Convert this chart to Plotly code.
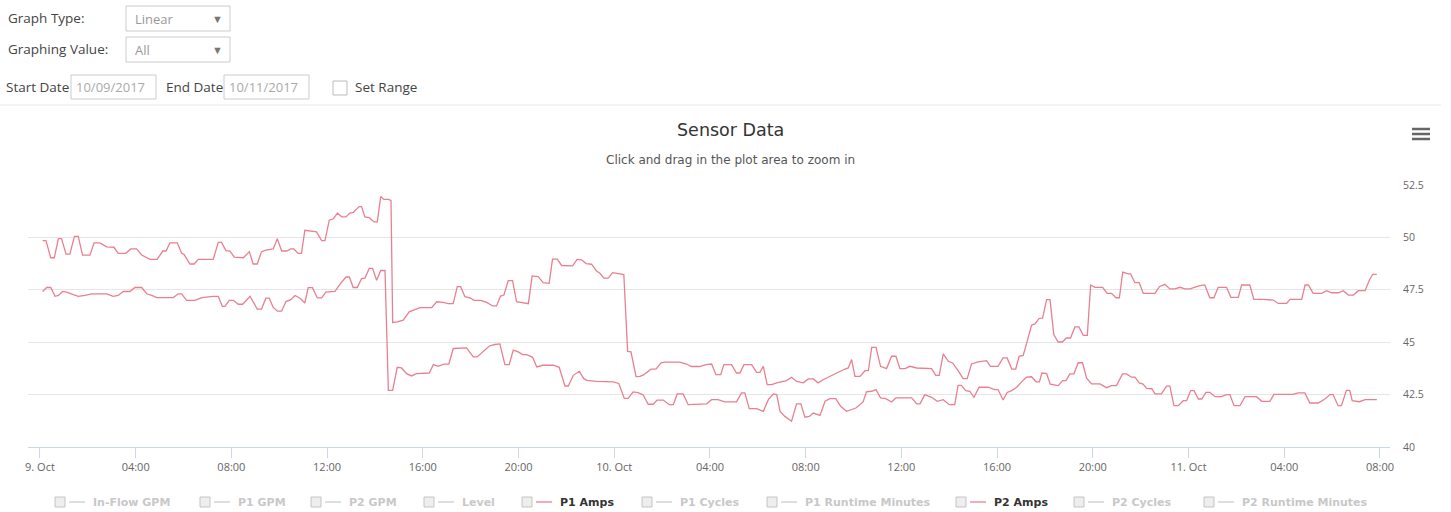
import pandas as pd
import plotly.graph_objects as go

# ---- data -----------------------------------------------------------------
start_day = "2017-10-09"

# hours after midnight on 9 Oct, and amps readings
p1_hours = [
    0.11, 0.25, 0.45, 0.60, 0.77, 0.90, 1.09, 1.25, 1.44, 1.60, 1.78, 2.09, 2.26, 2.50,
    2.79, 3.09, 3.27, 3.59, 3.79, 4.04, 4.25, 4.60, 4.90, 5.13, 5.27, 5.43, 5.74, 5.92,
    6.02, 6.27, 6.44, 6.62, 7.24, 7.45, 7.59, 7.77, 7.94, 8.12, 8.50, 8.75, 8.91, 9.08,
    9.26, 9.44, 9.75, 9.92, 10.10, 10.31, 10.48, 10.61, 10.79, 10.93, 11.07, 11.28,
    11.56, 11.77, 11.91, 12.09, 12.26, 12.43, 12.61, 12.79, 12.95, 13.09, 13.34, 13.44,
    13.58, 13.76, 13.96, 14.10, 14.24, 14.37, 14.56, 14.67, 14.74, 14.93, 15.18, 15.43,
    15.67, 15.88, 16.37, 16.58, 16.85, 17.06, 17.27, 17.44, 17.58, 17.76, 17.97, 18.14,
    18.42, 18.67, 18.92, 19.08, 19.25, 19.39, 19.57, 19.75, 19.92, 20.09, 20.41, 20.57,
    20.82, 21.03, 21.28, 21.42, 21.62, 21.80, 22.26, 22.45, 22.64, 22.82, 23.05, 23.26,
    23.40, 23.57, 23.75, 23.93, 24.17, 24.40, 24.56, 24.70, 24.91, 25.08, 25.24, 25.52,
    25.75, 25.96, 26.12, 26.74, 27.02, 27.22, 27.58, 27.83, 28.07, 28.25, 28.45, 28.58,
    28.90, 29.11, 29.25, 29.42, 29.74, 29.95, 30.09, 30.23, 30.39, 30.58, 30.79, 31.20,
    31.41, 31.62, 31.90, 32.11, 32.32, 32.52, 32.73, 33.01, 33.32, 33.64, 33.78, 33.92,
    34.06, 34.27, 34.48, 34.62, 34.76, 34.94, 35.13, 35.38, 35.59, 35.77, 35.94, 36.15,
    36.36, 36.64, 37.26, 37.44, 37.58, 37.75, 37.96, 38.14, 38.37, 38.58, 38.75, 38.93,
    39.21, 39.56, 39.72, 40.04, 40.25, 40.42, 40.61, 40.78, 40.92, 41.09, 41.23, 41.44,
    41.58, 41.76, 41.90, 42.07, 42.21, 42.37, 42.55, 42.72, 42.90, 43.07, 43.25, 43.42,
    43.60, 43.77, 43.91, 44.09, 44.41, 44.60, 44.78, 44.97, 45.11, 45.25, 45.48, 45.58,
    45.76, 45.94, 46.11, 46.60, 46.78, 47.01, 47.22, 47.43, 47.64, 47.85, 48.06, 48.26,
    48.47, 48.68, 48.89, 49.06, 49.24, 49.59, 49.77, 50.08, 50.22, 50.56, 50.73, 51.12,
    51.54, 51.75, 52.10, 52.24, 52.73, 52.87, 53.01, 53.21, 53.56, 53.77, 53.98, 54.26,
    54.47, 54.68, 54.89, 55.10, 55.38, 55.56, 55.70, 55.87,
]
p1_amps = [
    49.85, 49.85, 49.03, 49.03, 49.94, 49.94, 49.20, 49.20, 50.05, 50.05, 49.15, 49.15, 49.74, 49.74,
    49.55, 49.53, 49.24, 49.24, 49.45, 49.45, 49.16, 48.95, 48.95, 49.35, 49.35, 49.74, 49.74, 49.24,
    49.19, 48.73, 48.73, 48.95, 48.95, 49.76, 49.76, 49.37, 49.35, 49.06, 49.03, 49.32, 48.73, 48.73,
    49.32, 49.39, 49.45, 49.94, 49.35, 49.35, 49.45, 49.45, 49.24, 49.24, 50.34, 50.32,
    50.26, 49.85, 49.85, 50.82, 50.89, 51.16, 50.98, 50.98, 51.16, 51.19, 51.47, 51.47,
    50.98, 50.94, 50.74, 50.74, 51.95, 51.81, 51.81, 51.76, 45.94, 45.97, 46.05, 46.45,
    46.57, 46.65, 46.65, 46.93, 46.90, 46.84, 46.84, 47.65, 47.65, 47.17, 47.12, 47.00,
    47.00, 46.90, 46.73, 46.73, 47.20, 47.25, 47.94, 47.94, 46.93, 46.90, 46.84, 48.16,
    48.13, 47.84, 47.81, 48.96, 48.96, 48.66, 48.64, 48.95, 48.93, 48.75, 48.72, 48.40,
    48.29, 48.06, 48.06, 48.32, 48.26, 48.23, 44.56, 44.54, 43.36, 43.37, 43.45, 43.70,
    43.73, 44.02, 44.05, 44.05, 43.96, 43.84, 43.84, 43.93, 43.96, 43.45, 43.45, 43.93,
    43.93, 43.53, 43.53, 43.93, 43.93, 43.56, 43.56, 43.85, 42.98, 42.98, 43.06, 43.17,
    43.33, 43.13, 43.06, 43.25, 43.25, 43.06, 43.21, 43.37, 43.53, 43.72, 43.77, 44.17,
    43.37, 43.37, 43.64, 43.64, 44.75, 44.75, 43.85, 43.74, 44.33, 44.33, 43.74, 43.74,
    43.85, 43.77, 43.74, 43.42, 43.42, 44.44, 44.09, 44.01, 43.64, 43.26, 43.26, 43.96,
    44.06, 44.12, 43.85, 43.85, 44.25, 44.25, 43.72, 43.72, 44.33, 44.37, 44.93, 45.81,
    45.87, 46.14, 46.15, 47.03, 47.03, 45.36, 45.01, 45.01, 45.20, 45.20, 45.73, 45.73,
    45.33, 45.33, 47.73, 47.62, 47.62, 47.33, 47.33, 47.12, 47.12, 48.34, 48.26, 48.26,
    47.84, 47.84, 47.33, 47.33, 47.65, 47.76, 47.54, 47.54, 47.62, 47.54, 47.54, 47.62,
    47.70, 47.73, 47.12, 47.12, 47.62, 47.62, 47.14, 47.14, 47.73, 47.73, 47.04, 47.04,
    47.01, 46.85, 46.85, 47.04, 47.04, 47.73, 47.73, 47.33, 47.33, 47.46, 47.36, 47.36,
    47.46, 47.25, 47.25, 47.46, 47.46, 47.97, 48.24, 48.24,
]

p2_hours = [
    0.11, 0.28, 0.45, 0.63, 0.77, 0.95, 1.11, 1.32, 1.60, 1.88, 2.16, 2.79, 3.06, 3.27,
    3.48, 3.76, 3.97, 4.25, 4.46, 4.67, 4.88, 5.57, 5.78, 5.92, 6.13, 6.48, 6.76, 7.24,
    7.45, 7.62, 7.73, 7.91, 8.08, 8.29, 8.47, 8.78, 8.91, 9.08, 9.26, 9.44, 9.58, 9.75,
    9.92, 10.10, 10.28, 10.48, 10.66, 10.87, 11.07, 11.21, 11.39, 11.59, 11.77, 11.95,
    12.33, 12.54, 12.79, 12.93, 13.09, 13.26, 13.44, 13.58, 13.76, 13.90, 14.07, 14.24,
    14.42, 14.56, 14.74, 14.93, 15.11, 15.32, 15.53, 15.74, 16.27, 16.44, 16.64, 16.88,
    17.09, 17.27, 17.83, 18.11, 18.27, 18.52, 18.78, 19.01, 19.22, 19.43, 19.61, 19.78,
    19.99, 20.17, 20.34, 20.59, 20.76, 21.01, 21.45, 21.70, 21.94, 22.08, 22.29, 22.54,
    22.73, 22.85, 23.26, 23.96, 24.19, 24.42, 24.58, 24.79, 25.00, 25.21, 25.42, 25.63,
    25.79, 26.05, 26.30, 26.47, 26.63, 26.88, 27.09, 27.86, 28.07, 28.34, 28.62, 29.11,
    29.32, 29.46, 29.64, 29.95, 30.23, 30.44, 30.65, 30.79, 30.93, 31.13, 31.41, 31.62,
    31.80, 31.97, 32.15, 32.32, 32.60, 32.81, 33.01, 33.26, 33.46, 33.71, 34.10, 34.40,
    34.54, 34.76, 34.94, 35.13, 35.35, 35.59, 35.77, 36.43, 36.64, 36.78, 36.98, 37.26,
    37.50, 37.75, 38.00, 38.23, 38.37, 38.51, 38.69, 38.86, 39.03, 39.25, 39.62, 39.90,
    40.04, 40.25, 40.42, 40.61, 40.82, 41.03, 41.23, 41.44, 41.63, 41.77, 41.87, 42.07,
    42.22, 42.55, 42.74, 42.88, 43.04, 43.21, 43.39, 43.57, 43.74, 43.95, 44.30, 44.57,
    44.78, 44.99, 45.24, 45.41, 45.62, 45.76, 45.94, 46.10, 46.25, 46.46, 46.60, 46.87,
    47.08, 47.22, 47.39, 47.57, 47.78, 47.92, 48.09, 48.23, 48.41, 48.55, 48.73, 48.89,
    49.11, 49.38, 49.59, 49.73, 49.90, 50.15, 50.36, 50.84, 51.06, 51.40, 51.57, 52.37,
    52.58, 52.86, 53.07, 53.42, 53.70, 53.91, 54.04, 54.25, 54.39, 54.60, 54.74, 54.84,
    55.14, 55.38, 55.87,
]
p2_amps = [
    47.42, 47.61, 47.61, 47.19, 47.23, 47.42, 47.39, 47.29, 47.19, 47.23, 47.31, 47.31, 47.19, 47.23,
    47.42, 47.42, 47.61, 47.61, 47.31, 47.23, 47.13, 47.13, 47.31, 47.31, 47.00, 47.00, 47.13, 47.19,
    47.19, 46.71, 46.71, 47.00, 47.00, 46.81, 46.81, 47.19, 46.94, 46.58, 46.58, 47.10, 47.10, 46.66,
    46.48, 46.48, 46.94, 47.03, 47.23, 47.10, 46.87, 47.60, 47.60, 47.11, 47.11, 47.39,
    47.42, 47.77, 48.11, 48.11, 47.61, 47.61, 48.03, 48.06, 48.52, 48.52, 47.95, 48.42,
    48.42, 42.70, 42.70, 43.80, 43.77, 43.50, 43.39, 43.50, 43.53, 43.93, 43.85, 43.95,
    43.96, 44.70, 44.73, 44.30, 44.30, 44.54, 44.82, 44.89, 44.92, 43.93, 43.93, 44.62,
    44.54, 44.41, 44.41, 44.28, 43.82, 43.90, 43.90, 43.80, 42.91, 42.91, 43.42, 43.61,
    43.26, 43.18, 43.13, 43.11, 43.03, 42.32, 42.32, 42.63, 42.59, 42.48, 42.04, 42.04,
    42.24, 42.24, 42.02, 42.02, 42.53, 42.53, 42.02, 42.06, 42.26, 42.26, 42.15, 42.15,
    42.58, 42.58, 41.83, 41.83, 41.70, 42.26, 42.53, 42.50, 41.70, 41.46, 41.23, 42.06,
    42.06, 41.42, 41.46, 41.62, 41.51, 42.18, 42.31, 42.31, 41.94, 41.70, 41.86, 42.15,
    42.63, 42.66, 42.74, 42.34, 42.31, 42.15, 42.34, 42.34, 42.06, 42.06, 42.50, 42.37,
    42.18, 42.26, 42.02, 42.02, 42.94, 42.94, 42.69, 42.66, 42.37, 42.85, 42.85, 42.74,
    42.74, 42.24, 42.60, 42.69, 42.85, 43.12, 43.33, 43.35, 43.11, 43.11, 43.53, 43.50,
    43.00, 42.93, 43.17, 43.17, 43.49, 43.49, 44.02, 44.02, 43.28, 43.01, 43.01, 42.83,
    42.93, 42.93, 43.49, 43.49, 43.33, 43.33, 43.06, 43.00, 42.80, 42.78, 42.53, 42.53,
    42.90, 42.90, 41.97, 41.97, 42.21, 42.21, 42.69, 42.69, 42.29, 42.29, 42.61, 42.61,
    42.40, 42.40, 42.50, 42.50, 41.97, 41.97, 42.40, 42.40, 42.18, 42.18, 42.51, 42.51,
    42.58, 42.58, 42.10, 42.10, 42.29, 42.50, 42.50, 41.97, 41.97, 42.70, 42.70, 42.21,
    42.16, 42.26, 42.26,
]

tick_hours = [0, 4, 8, 12, 16, 20, 24, 28, 32, 36, 40, 44, 48, 52, 56]
tick_labels = ["9. Oct", "04:00", "08:00", "12:00", "16:00", "20:00", "10. Oct",
               "04:00", "08:00", "12:00", "16:00", "20:00", "11. Oct", "04:00", "08:00"]
y_ticks = [40, 42.5, 45, 47.5, 50, 52.5]
y_tick_labels = ["40", "42.5", "45", "47.5", "50", "52.5"]

legend_names = ["In-Flow GPM", "P1 GPM", "P2 GPM", "Level", "P1 Amps", "P1 Cycles",
                "P1 Runtime Minutes", "P2 Amps", "P2 Cycles", "P2 Runtime Minutes"]
legend_visible = [False, False, False, False, True, False, False, True, False, False]

# ---- geometry / style ------------------------------------------------------
W, H = 1451, 512
PL, PR, PT, PB = 28, 1390, 185, 447          # plot area in page pixels
LINE_COLOR = "rgb(232,128,144)"
UI_FONT = "Open Sans"
CHART_FONT = "DejaVu Sans"

base = pd.Timestamp(start_day)


def to_time(hours):
    return base + pd.to_timedelta(hours, unit="h")


def fx(px):
    return (px - PL) / (PR - PL)


def fy(py):
    return (PB - py) / (PB - PT)


shapes = []
annotations = []


def text(px, py, s, size, color, anchor="left", family=UI_FONT, bold=False):
    # annotations carry ~2px of padding; pull left-anchored text back by that much
    shift = -2 if anchor == "left" else 0
    annotations.append(dict(
        x=fx(px + shift), y=fy(py), xref="paper", yref="paper",
        text=f"<b>{s}</b>" if bold else s,
        showarrow=False, xanchor=anchor, yanchor="middle",
        font=dict(family=family, size=size, color=color)))


def rect(x0, y0, x1, y1, line="#cccccc", fill="white", width=1):
    shapes.append(dict(type="rect", xref="paper", yref="paper",
                       x0=fx(x0), x1=fx(x1), y0=fy(y1), y1=fy(y0),
                       line=dict(color=line, width=width), fillcolor=fill, layer="above"))


def hline(x0, x1, y, color, width=1):
    shapes.append(dict(type="line", xref="paper", yref="paper",
                       x0=fx(x0), x1=fx(x1), y0=fy(y), y1=fy(y),
                       line=dict(color=color, width=width), layer="above"))


# ---- form controls above the chart -----------------------------------------
text(8, 18, "Graph Type:", 13.5, "#444")
rect(126, 6, 230, 31)
text(135, 19, "Linear", 13, "#999")
text(217, 18, "▼", 11, "#777", anchor="center")

text(8, 49, "Graphing Value:", 13.5, "#444")
rect(126, 37, 230, 62)
text(135, 50, "All", 13, "#999")
text(217, 49, "▼", 11, "#777", anchor="center")

text(6, 87, "Start Date", 13.5, "#444")
rect(71, 75, 156, 99)
text(76, 87, "10/09/2017", 13, "#aaa")
text(166, 87, "End Date", 13.5, "#444")
rect(224, 75, 309, 99)
text(229, 87, "10/11/2017", 13, "#aaa")
rect(333, 81, 347, 95, line="#bbbbbb")
text(355, 87, "Set Range", 13.5, "#444")

hline(0, 1441, 105, "#e8e8e8")

# ---- chart header ----------------------------------------------------------
text(730, 130, "Sensor Data", 17.5, "#333", anchor="center", family=CHART_FONT)
text(730, 160, "Click and drag in the plot area to zoom in", 12, "#555",
     anchor="center", family=CHART_FONT)
for yy in (129, 134, 139):
    hline(1412, 1430, yy, "#666", width=2.5)

# ---- legend ---------------------------------------------------------------
legend_text_x = [93, 238, 349, 462, 560, 680, 805, 994, 1112, 1242]
for name, vis, tx in zip(legend_names, legend_visible, legend_text_x):
    cb = tx - 33
    rect(cb - 5, 497, cb + 5, 507, line="#c4c4c4", fill="#eeeeee")
    hline(tx - 24, tx - 8, 502, LINE_COLOR if vis else "#cccccc", width=1.3)
    text(tx, 502, name, 11, "#333" if vis else "#c8c8c8", family=CHART_FONT, bold=True)

# ---- figure ----------------------------------------------------------------
fig = go.Figure()
for hrs, vals, name in ((p1_hours, p1_amps, "P1 Amps"), (p2_hours, p2_amps, "P2 Amps")):
    fig.add_trace(go.Scatter(
        x=to_time(hrs), y=vals, mode="lines", name=name, showlegend=False,
        line=dict(color=LINE_COLOR, width=1.3), hoverinfo="x+y"))

fig.update_layout(
    width=W, height=H, autosize=False,
    margin=dict(l=PL, r=W - PR, t=PT, b=H - PB, pad=0),
    paper_bgcolor="white", plot_bgcolor="white",
    shapes=shapes, annotations=annotations,
    xaxis=dict(
        type="date",
        range=[to_time(-0.5), to_time(56.42)],
        tickvals=list(to_time(tick_hours)), ticktext=tick_labels,
        showgrid=False, zeroline=False,
        showline=True, linecolor="#ccd6eb", linewidth=1,
        ticks="outside", ticklen=10, tickcolor="#ccd6eb", tickwidth=1,
        tickfont=dict(family=UI_FONT, size=11, color="#666"),
    ),
    yaxis=dict(
        range=[40, 52.5], side="right",
        tickvals=y_ticks, ticktext=y_tick_labels,
        showgrid=True, gridcolor="#e6e6e6", gridwidth=1,
        zeroline=False, showline=False, ticks="",
        ticklabelstandoff=12,
        tickfont=dict(family=UI_FONT, size=10.5, color="#666"),
    ),
    showlegend=False,
)

fig.write_html("out.html")
